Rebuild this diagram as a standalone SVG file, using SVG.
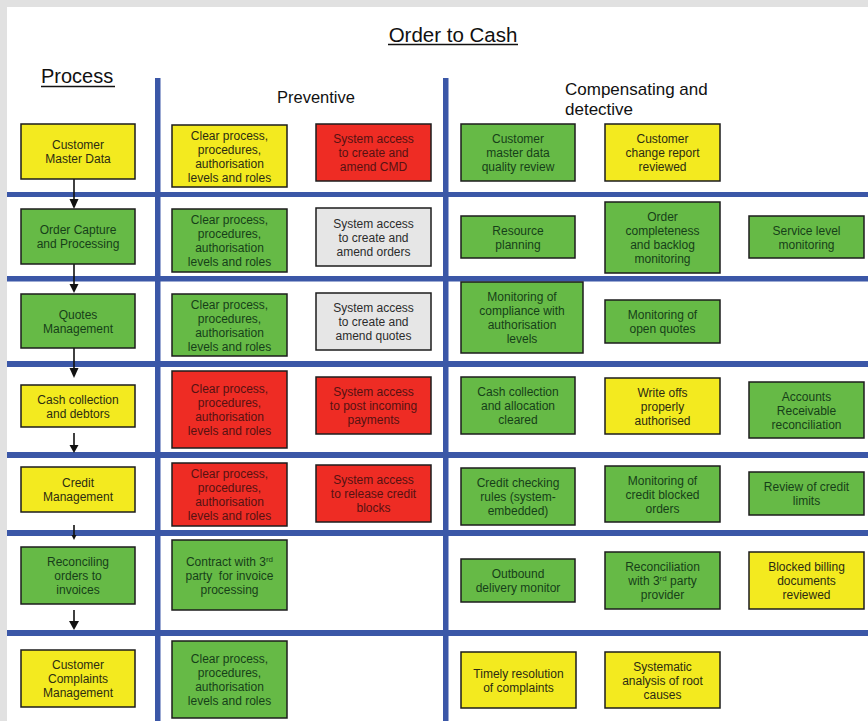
<svg xmlns="http://www.w3.org/2000/svg" width="868" height="721" viewBox="0 0 868 721">
<style>
.bx{stroke:#1c1c1c;stroke-width:1.5}
.y{fill:#f3ea1f}.g{fill:#66ba46}.r{fill:#ee2c24}.gr{fill:#e6e6e6}
.t{font-family:"Liberation Sans",Arial,sans-serif;font-size:12px;text-anchor:middle}
.ty{fill:#2c2c12}.tg{fill:#163f19}.tr{fill:#561212}.tgr{fill:#2c2c2c}
.blue{fill:#3b57a7}
.h{font-family:"Liberation Sans",Arial,sans-serif;fill:#111}
.ar{stroke:#111;stroke-width:1.6;fill:none}
.ah{fill:#111}
</style>
<rect x="0" y="0" width="868" height="721" fill="#e1e1e1"/>
<rect x="7" y="7" width="861" height="714" fill="#ffffff"/>
<g id="grid">
<rect class="blue" x="155" y="78" width="5.5" height="643"/>
<rect class="blue" x="443" y="78" width="5.5" height="643"/>
<rect class="blue" x="7" y="192" width="861" height="5"/>
<rect class="blue" x="7" y="276" width="861" height="5.5"/>
<rect class="blue" x="7" y="361" width="861" height="6"/>
<rect class="blue" x="7" y="452" width="861" height="6"/>
<rect class="blue" x="7" y="530" width="861" height="6"/>
<rect class="blue" x="7" y="630" width="861" height="6"/>
</g>
<g id="headers">
<text class="h" x="453" y="41.5" font-size="20.5" text-anchor="middle">Order to Cash</text>
<line x1="388" y1="44.5" x2="518" y2="44.5" stroke="#111" stroke-width="1.5"/>
<text class="h" x="41" y="83" font-size="20">Process</text>
<line x1="41" y1="86.5" x2="115" y2="86.5" stroke="#111" stroke-width="1.5"/>
<text class="h" x="277" y="103" font-size="16.5">Preventive</text>
<text class="h" x="565" y="94.5" font-size="17">Compensating and</text>
<text class="h" x="565" y="114.5" font-size="17">detective</text>
</g>
<g id="connectors">
<line class="ar" x1="74" y1="179" x2="74" y2="200"/><polygon class="ah" points="69.5,199 78.5,199 74,209"/>
<line class="ar" x1="74" y1="264" x2="74" y2="285"/><polygon class="ah" points="69.5,284 78.5,284 74,293"/>
<line class="ar" x1="74" y1="348" x2="74" y2="369"/><polygon class="ah" points="69.5,368 78.5,368 74,378"/>
<line class="ar" x1="74" y1="433" x2="74" y2="446"/><polygon class="ah" points="69.5,445 78.5,445 74,453"/>
<line class="ar" x1="74" y1="525" x2="74" y2="536"/><polygon class="ah" points="71.5,535 76.5,535 74,540"/>
<line class="ar" x1="74" y1="610" x2="74" y2="622"/><polygon class="ah" points="69,621 79,621 74,630"/>
</g>
<g id="p1"><rect class="bx y" x="21" y="124" width="114" height="55"/><text class="t ty"><tspan x="78" y="149">Customer</tspan><tspan x="78" y="163">Master Data</tspan></text></g>
<g id="p2"><rect class="bx g" x="21" y="209" width="114" height="55"/><text class="t tg"><tspan x="78" y="234">Order Capture</tspan><tspan x="78" y="248">and Processing</tspan></text></g>
<g id="p3"><rect class="bx g" x="21" y="294" width="114" height="54"/><text class="t tg"><tspan x="78" y="318.5">Quotes</tspan><tspan x="78" y="332.5">Management</tspan></text></g>
<g id="p4"><rect class="bx y" x="21" y="385" width="114" height="42"/><text class="t ty"><tspan x="78" y="403.5">Cash collection</tspan><tspan x="78" y="417.5">and debtors</tspan></text></g>
<g id="p5"><rect class="bx y" x="21" y="467" width="114" height="45"/><text class="t ty"><tspan x="78" y="487">Credit</tspan><tspan x="78" y="501">Management</tspan></text></g>
<g id="p6"><rect class="bx g" x="21" y="547" width="114" height="57"/><text class="t tg"><tspan x="78" y="566">Reconciling</tspan><tspan x="78" y="580">orders to</tspan><tspan x="78" y="594">invoices</tspan></text></g>
<g id="p7"><rect class="bx y" x="21" y="650" width="114" height="57"/><text class="t ty"><tspan x="78" y="669">Customer</tspan><tspan x="78" y="683">Complaints</tspan><tspan x="78" y="697">Management</tspan></text></g>
<g id="a1"><rect class="bx y" x="172" y="125" width="115" height="62"/><text class="t ty"><tspan x="229.5" y="139.5">Clear process,</tspan><tspan x="229.5" y="153.5">procedures,</tspan><tspan x="229.5" y="167.5">authorisation</tspan><tspan x="229.5" y="181.5">levels and roles</tspan></text></g>
<g id="a2"><rect class="bx g" x="172" y="209" width="115" height="63"/><text class="t tg"><tspan x="229.5" y="224">Clear process,</tspan><tspan x="229.5" y="238">procedures,</tspan><tspan x="229.5" y="252">authorisation</tspan><tspan x="229.5" y="266">levels and roles</tspan></text></g>
<g id="a3"><rect class="bx g" x="172" y="294" width="115" height="62"/><text class="t tg"><tspan x="229.5" y="308.5">Clear process,</tspan><tspan x="229.5" y="322.5">procedures,</tspan><tspan x="229.5" y="336.5">authorisation</tspan><tspan x="229.5" y="350.5">levels and roles</tspan></text></g>
<g id="a4"><rect class="bx r" x="172" y="371" width="115" height="77"/><text class="t tr"><tspan x="229.5" y="393">Clear process,</tspan><tspan x="229.5" y="407">procedures,</tspan><tspan x="229.5" y="421">authorisation</tspan><tspan x="229.5" y="435">levels and roles</tspan></text></g>
<g id="a5"><rect class="bx r" x="172" y="463" width="115" height="63"/><text class="t tr"><tspan x="229.5" y="478">Clear process,</tspan><tspan x="229.5" y="492">procedures,</tspan><tspan x="229.5" y="506">authorisation</tspan><tspan x="229.5" y="520">levels and roles</tspan></text></g>
<g id="a6"><rect class="bx g" x="172" y="540" width="115" height="70"/><text class="t tg"><tspan x="229.5" y="565.5">Contract with 3<tspan font-size="8" dy="-4">rd</tspan></tspan><tspan x="229.5" y="579.5">party&#160; for invoice</tspan><tspan x="229.5" y="593.5">processing</tspan></text></g>
<g id="a7"><rect class="bx g" x="172" y="641" width="115" height="77"/><text class="t tg"><tspan x="229.5" y="663">Clear process,</tspan><tspan x="229.5" y="677">procedures,</tspan><tspan x="229.5" y="691">authorisation</tspan><tspan x="229.5" y="705">levels and roles</tspan></text></g>
<g id="b1"><rect class="bx r" x="316" y="124" width="115" height="57"/><text class="t tr"><tspan x="373.5" y="143">System access</tspan><tspan x="373.5" y="157">to create and</tspan><tspan x="373.5" y="171">amend CMD</tspan></text></g>
<g id="b2"><rect class="bx gr" x="316" y="208" width="115" height="58"/><text class="t tgr"><tspan x="373.5" y="227.5">System access</tspan><tspan x="373.5" y="241.5">to create and</tspan><tspan x="373.5" y="255.5">amend orders</tspan></text></g>
<g id="b3"><rect class="bx gr" x="316" y="293" width="115" height="57"/><text class="t tgr"><tspan x="373.5" y="312">System access</tspan><tspan x="373.5" y="326">to create and</tspan><tspan x="373.5" y="340">amend quotes</tspan></text></g>
<g id="b4"><rect class="bx r" x="316" y="377" width="115" height="57"/><text class="t tr"><tspan x="373.5" y="396">System access</tspan><tspan x="373.5" y="410">to post incoming</tspan><tspan x="373.5" y="424">payments</tspan></text></g>
<g id="b5"><rect class="bx r" x="316" y="465" width="115" height="57"/><text class="t tr"><tspan x="373.5" y="484">System access</tspan><tspan x="373.5" y="498">to release credit</tspan><tspan x="373.5" y="512">blocks</tspan></text></g>
<g id="c1"><rect class="bx g" x="461" y="124" width="114" height="57"/><text class="t tg"><tspan x="518" y="143">Customer</tspan><tspan x="518" y="157">master data</tspan><tspan x="518" y="171">quality review</tspan></text></g>
<g id="c2"><rect class="bx g" x="461" y="216" width="114" height="42"/><text class="t tg"><tspan x="518" y="234.5">Resource</tspan><tspan x="518" y="248.5">planning</tspan></text></g>
<g id="c3"><rect class="bx g" x="461" y="282" width="122" height="71"/><text class="t tg"><tspan x="522" y="301">Monitoring of</tspan><tspan x="522" y="315">compliance with</tspan><tspan x="522" y="329">authorisation</tspan><tspan x="522" y="343">levels</tspan></text></g>
<g id="c4"><rect class="bx g" x="461" y="377" width="114" height="57"/><text class="t tg"><tspan x="518" y="396">Cash collection</tspan><tspan x="518" y="410">and allocation</tspan><tspan x="518" y="424">cleared</tspan></text></g>
<g id="c5"><rect class="bx g" x="461" y="468" width="114" height="57"/><text class="t tg"><tspan x="518" y="487">Credit checking</tspan><tspan x="518" y="501">rules (system-</tspan><tspan x="518" y="515">embedded)</tspan></text></g>
<g id="c6"><rect class="bx g" x="461" y="559" width="114" height="43"/><text class="t tg"><tspan x="518" y="578">Outbound</tspan><tspan x="518" y="592">delivery monitor</tspan></text></g>
<g id="c7"><rect class="bx y" x="461" y="652" width="115" height="56"/><text class="t ty"><tspan x="518.5" y="677.5">Timely resolution</tspan><tspan x="518.5" y="691.5">of complaints</tspan></text></g>
<g id="d1"><rect class="bx y" x="605" y="124" width="115" height="57"/><text class="t ty"><tspan x="662.5" y="143">Customer</tspan><tspan x="662.5" y="157">change report</tspan><tspan x="662.5" y="171">reviewed</tspan></text></g>
<g id="d2"><rect class="bx g" x="605" y="202" width="115" height="71"/><text class="t tg"><tspan x="662.5" y="221">Order</tspan><tspan x="662.5" y="235">completeness</tspan><tspan x="662.5" y="249">and backlog</tspan><tspan x="662.5" y="263">monitoring</tspan></text></g>
<g id="d3"><rect class="bx g" x="605" y="300" width="115" height="43"/><text class="t tg"><tspan x="662.5" y="319">Monitoring of</tspan><tspan x="662.5" y="333">open quotes</tspan></text></g>
<g id="d4"><rect class="bx y" x="605" y="378" width="115" height="56"/><text class="t ty"><tspan x="662.5" y="396.5">Write offs</tspan><tspan x="662.5" y="410.5">properly</tspan><tspan x="662.5" y="424.5">authorised</tspan></text></g>
<g id="d5"><rect class="bx g" x="605" y="466" width="115" height="56"/><text class="t tg"><tspan x="662.5" y="484.5">Monitoring of</tspan><tspan x="662.5" y="498.5">credit blocked</tspan><tspan x="662.5" y="512.5">orders</tspan></text></g>
<g id="d6"><rect class="bx g" x="605" y="552" width="115" height="57"/><text class="t tg"><tspan x="662.5" y="571">Reconciliation</tspan><tspan x="662.5" y="585">with 3<tspan font-size="8" dy="-4">rd</tspan><tspan dy="4"> party</tspan></tspan><tspan x="662.5" y="599">provider</tspan></text></g>
<g id="d7"><rect class="bx y" x="605" y="652" width="115" height="56"/><text class="t ty"><tspan x="662.5" y="670.5">Systematic</tspan><tspan x="662.5" y="684.5">analysis of root</tspan><tspan x="662.5" y="698.5">causes</tspan></text></g>
<g id="e2"><rect class="bx g" x="749" y="216" width="115" height="42"/><text class="t tg"><tspan x="806.5" y="234.5">Service level</tspan><tspan x="806.5" y="248.5">monitoring</tspan></text></g>
<g id="e4"><rect class="bx g" x="749" y="382" width="115" height="56"/><text class="t tg"><tspan x="806.5" y="400.5">Accounts</tspan><tspan x="806.5" y="414.5">Receivable</tspan><tspan x="806.5" y="428.5">reconciliation</tspan></text></g>
<g id="e5"><rect class="bx g" x="749" y="472" width="115" height="43"/><text class="t tg"><tspan x="806.5" y="491">Review of credit</tspan><tspan x="806.5" y="505">limits</tspan></text></g>
<g id="e6"><rect class="bx y" x="749" y="552" width="115" height="57"/><text class="t ty"><tspan x="806.5" y="571">Blocked billing</tspan><tspan x="806.5" y="585">documents</tspan><tspan x="806.5" y="599">reviewed</tspan></text></g>
</svg>
